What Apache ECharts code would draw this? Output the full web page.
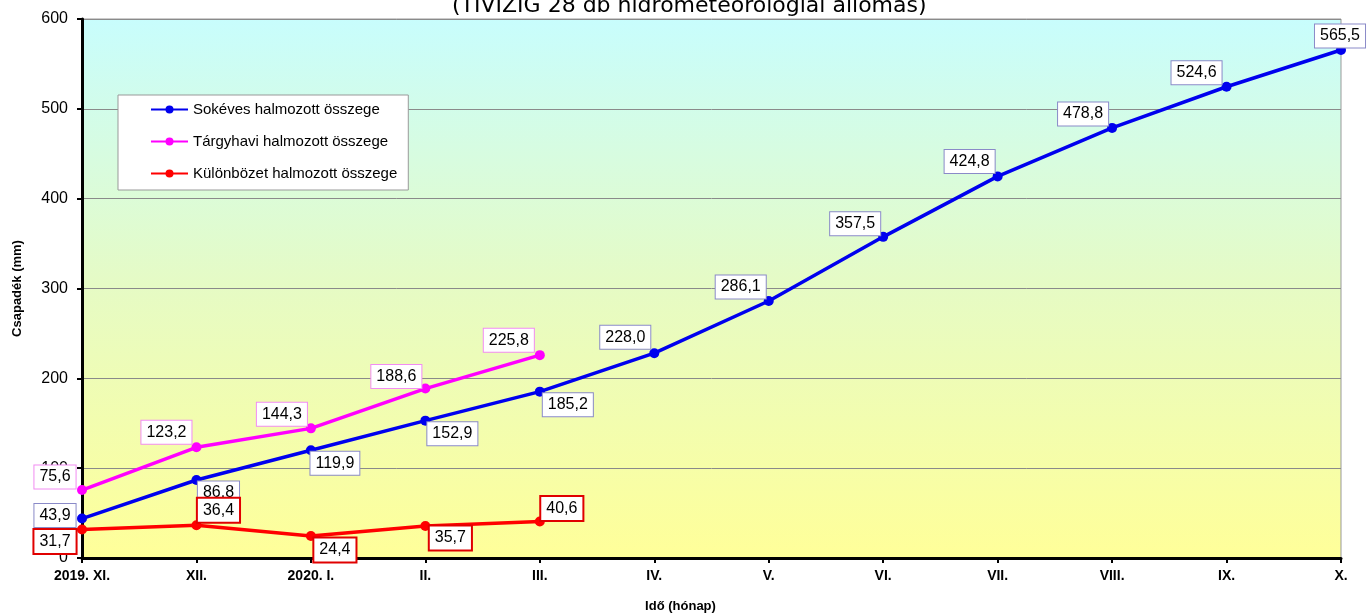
<!DOCTYPE html>
<html>
<head>
<meta charset="utf-8">
<title>Csapadék halmozott összege</title>
<script src="https://cdn.jsdelivr.net/npm/echarts@6/dist/echarts.min.js"></script>
<style>
  html, body { margin: 0; padding: 0; background: #fff; }
  #chart { width: 1370px; height: 613px; }
</style>
</head>
<body>
<div id="chart"></div>
<script>
// Months of the hydrological year
const categories = ['2019. XI.', 'XII.', '2020. I.', 'II.', 'III.', 'IV.', 'V.', 'VI.', 'VII.', 'VIII.', 'IX.', 'X.'];

// Cumulative precipitation (mm)
const longTermCumulative = [43.9, 86.8, 119.9, 152.9, 185.2, 228.0, 286.1, 357.5, 424.8, 478.8, 524.6, 565.5];
const currentCumulative = [75.6, 123.2, 144.3, 188.6, 225.8];
const differenceCumulative = [31.7, 36.4, 24.4, 35.7, 40.6];

const yTicks = { min: 0, max: 600, interval: 100 };

// Label box offsets (centre of box relative to the point), per point
const longTermLabelOffsets = [[-27, -3], [22, 13], [24, 13], [27, 13], [28, 13], [-29, -16], [-28, -14], [-28, -13], [-28, -15], [-29, -14], [-30, -14], [-1, -14]];
const currentLabelOffsets = [[-27, -13], [-30, -15], [-29, -14], [-29, -12], [-31, -15]];
const differenceLabelOffsets = [[-27, 12], [22, -15], [24, 14], [25, 12], [22, -13]];

const FONT = '"Liberation Sans", Arial, sans-serif';

function fmt(v) { return v.toFixed(1).replace('.', ','); }

function withLabels(values, offsets, borderColor, borderWidth) {
  return values.map((v, i) => ({
    value: v,
    label: {
      show: true,
      position: 'inside',
      offset: offsets[i],
      formatter: p => fmt(p.value),
      color: '#000',
      fontFamily: FONT,
      fontSize: 16,
      lineHeight: 18,
      backgroundColor: '#fff',
      borderColor: borderColor,
      borderWidth: borderWidth,
      padding: [3, 5, 2, 5]
    }
  }));
}

const chart = echarts.init(document.getElementById('chart'), null, { renderer: 'canvas' });

chart.setOption({
  animation: false,
  backgroundColor: '#fff',
  title: {
    text: '(TIVIZIG 28 db hidrometeorológiai állomás)',
    left: 452,
    top: -5,
    padding: 0,
    textStyle: { fontFamily: '"DejaVu Sans", Verdana, sans-serif', fontSize: 22, fontWeight: 'normal', color: '#000' }
  },
  legend: {
    orient: 'vertical',
    left: 118,
    top: 95,
    itemWidth: 37,
    itemHeight: 10,
    itemGap: 15,
    padding: [6, 11, 8, 32],
    backgroundColor: '#fff',
    borderColor: '#999',
    borderWidth: 1,
    textStyle: { fontFamily: FONT, fontSize: 15, lineHeight: 17, color: '#000' },
    data: ['Sokéves halmozott összege', 'Tárgyhavi halmozott összege', 'Különbözet halmozott összege']
  },
  grid: {
    left: 82,
    right: 29,
    top: 19,
    bottom: 55,
    outerBoundsMode: 'none',
    containLabel: false,
    show: true,
    borderColor: '#999',
    borderWidth: 1,
    backgroundColor: new echarts.graphic.LinearGradient(0, 0, 0, 1, [
      { offset: 0, color: '#c8fdfd' },
      { offset: 0.5, color: '#e6fbc4' },
      { offset: 1, color: '#ffff99' }
    ])
  },
  xAxis: {
    type: 'category',
    data: categories,
    boundaryGap: false,
    name: 'Idő (hónap)',
    nameLocation: 'middle',
    nameGap: 42,
    nameTextStyle: { fontFamily: FONT, fontSize: 13, fontWeight: 'bold', color: '#000', padding: [0, 62, 0, 0] },
    axisLine: { lineStyle: { color: '#000', width: 3 } },
    axisTick: { show: true, length: 5, lineStyle: { color: '#000', width: 2 }, alignWithLabel: true },
    axisLabel: { fontFamily: FONT, fontSize: 14, fontWeight: 'bold', color: '#000', margin: 11, interval: 0 },
    splitLine: { show: false }
  },
  yAxis: {
    type: 'value',
    min: yTicks.min,
    max: yTicks.max,
    interval: yTicks.interval,
    name: 'Csapadék (mm)',
    nameLocation: 'middle',
    nameRotate: 90,
    nameGap: 58,
    nameTextStyle: { fontFamily: FONT, fontSize: 13, fontWeight: 'bold', color: '#000' },
    axisLine: { show: true, lineStyle: { color: '#000', width: 3 } },
    axisTick: { show: true, length: 5, lineStyle: { color: '#000', width: 2 } },
    axisLabel: { fontFamily: FONT, fontSize: 16, color: '#000', margin: 14 },
    splitLine: { show: true, lineStyle: { color: '#8a8a8a', width: 1 } }
  },
  series: [
    {
      name: 'Sokéves halmozott összege',
      type: 'line',
      z: 2,
      clip: false,
      data: withLabels(longTermCumulative, longTermLabelOffsets, '#8a8ac8', 1),
      symbol: 'circle',
      symbolSize: 10,
      lineStyle: { color: '#0000ee', width: 3.5 },
      itemStyle: { color: '#0000ee' }
    },
    {
      name: 'Tárgyhavi halmozott összege',
      type: 'line',
      z: 3,
      clip: false,
      data: withLabels(currentCumulative, currentLabelOffsets, '#f28cf2', 1),
      symbol: 'circle',
      symbolSize: 10,
      lineStyle: { color: '#ff00ff', width: 3.5 },
      itemStyle: { color: '#ff00ff' }
    },
    {
      name: 'Különbözet halmozott összege',
      type: 'line',
      z: 4,
      clip: false,
      data: withLabels(differenceCumulative, differenceLabelOffsets, '#e00000', 2),
      symbol: 'circle',
      symbolSize: 10,
      lineStyle: { color: '#ff0000', width: 3.5 },
      itemStyle: { color: '#ff0000' }
    }
  ]
});
</script>
</body>
</html>
